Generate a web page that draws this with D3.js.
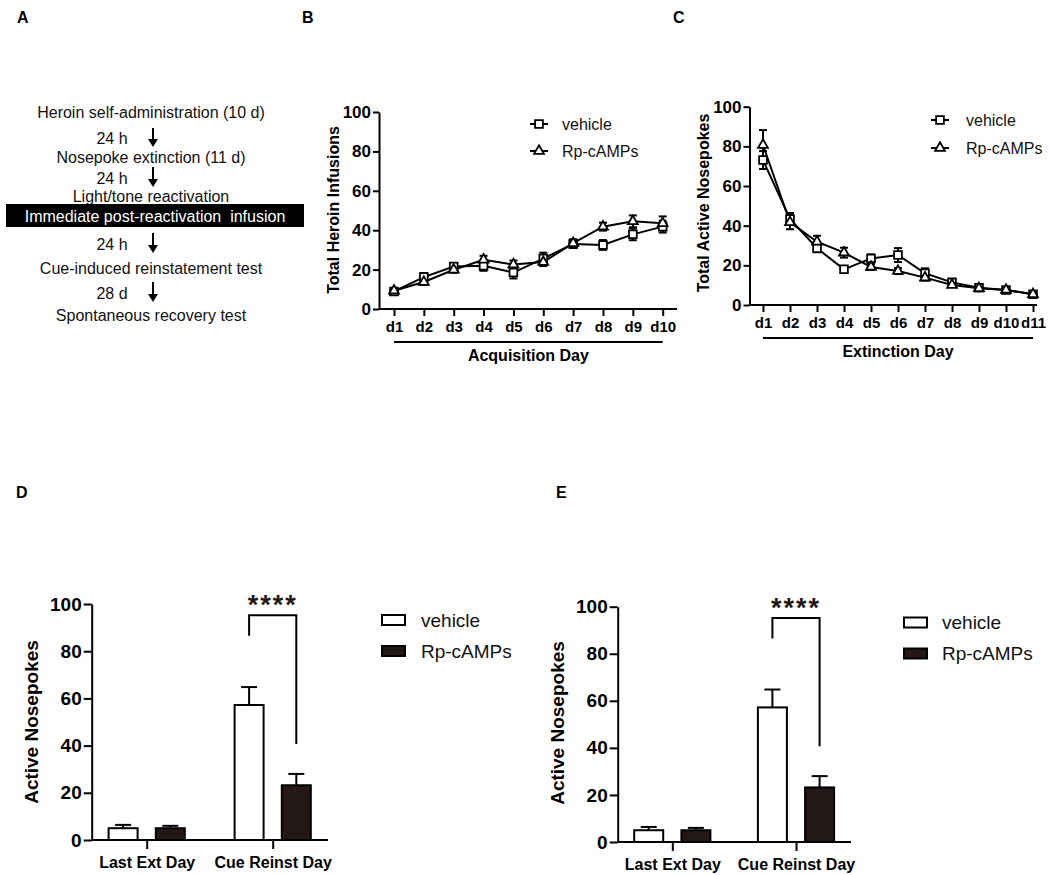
<!DOCTYPE html>
<html lang="en">
<head>
<meta charset="UTF-8">
<title>Rp-cAMPs reconsolidation figure</title>
<style>
  body { margin: 0; background: #fff; }
  svg { display: block; font-family: Arial, "Liberation Sans", sans-serif; }
  .axis path, .axis line { stroke: #000; stroke-width: 2; }
  .axis text { fill: #000; font-weight: bold; }
</style>
</head>
<body>
<svg id="fig" width="1050" height="875"></svg>
<script src="https://d3js.org/d3.v7.min.js"></script>
<script>
// ---- values ----
const yTicks = [0, 20, 40, 60, 80, 100];
const seriesNames = ["vehicle", "Rp-cAMPs"];

// B: acquisition
const acqDays = ["d1", "d2", "d3", "d4", "d5", "d6", "d7", "d8", "d9", "d10"];
const acqVehicle = [8.9, 16.2, 21.6, 21.9, 18.5, 25.6, 33.0, 32.5, 37.9, 41.8];
const acqVehicleErr = [1.5, 2.0, 1.5, 2.5, 3.0, 3.0, 2.0, 2.5, 3.0, 3.0];
const acqRp = [9.3, 13.7, 19.9, 25.0, 22.6, 23.8, 33.4, 41.8, 44.5, 43.5];
const acqRpErr = [1.0, 1.5, 1.5, 2.0, 2.0, 2.0, 2.0, 2.0, 3.0, 3.5];

// C: extinction
const extDays = ["d1", "d2", "d3", "d4", "d5", "d6", "d7", "d8", "d9", "d10", "d11"];
const extVehicle = [73.1, 43.4, 28.6, 18.0, 23.5, 25.2, 16.0, 11.4, 8.7, 7.6, 5.4];
const extVehicleErr = [4.5, 3.0, 2.0, 1.0, 2.0, 3.5, 2.5, 1.0, 1.0, 0.8, 0.8];
const extRp = [80.7, 41.7, 31.9, 26.4, 19.2, 17.1, 13.8, 10.1, 8.4, 7.6, 5.4];
const extRpErr = [7.5, 3.5, 3.0, 2.5, 1.5, 1.5, 1.5, 1.0, 1.0, 0.8, 0.8];

// D / E: test days
const testDays = ["Last Ext Day", "Cue Reinst Day"];
const testVehicle = [5.0, 57.2];
const testVehicleErr = [1.4, 7.6];
const testRp = [5.0, 23.2];
const testRpErr = [1.0, 4.8];
const bracketLevels = [95.2, 86.5, 40.7]; // top, left leg end, right leg end
const sigLabel = "****";

// A: protocol
const protocolSteps = ["Heroin self-administration (10 d)", "Nosepoke extinction (11 d)",
  "Light/tone reactivation", "Immediate post-reactivation  infusion",
  "Cue-induced reinstatement test", "Spontaneous recovery test"];
const protocolGaps = ["24 h", "24 h", "24 h", "28 d"];

const svg = d3.select("#fig");

// panel letters
[["A", 17, 23], ["B", 302, 23], ["C", 673, 23], ["D", 16, 498], ["E", 556, 498]].forEach(p => {
  svg.append("text").attr("x", p[1]).attr("y", p[2]).text(p[0])
    .attr("font-size", 16).attr("font-weight", "bold");
});

// ---- A: protocol diagram ----
(function drawProtocol() {
  const g = svg.append("g");
  const cx = 151;
  const stepY = [112, 157, 196, 216, 268, 315];
  g.append("rect").attr("x", 6).attr("y", 204).attr("width", 298).attr("height", 23).attr("fill", "#000");
  protocolSteps.forEach((s, i) => {
    g.append("text").attr("x", i === 3 ? 155 : cx).attr("y", stepY[i])
      .attr("text-anchor", "middle").attr("dominant-baseline", "central")
      .attr("font-size", 16).attr("fill", i === 3 ? "#fff" : "#111")
      .style("white-space", "pre").text(s);
  });
  const arrows = [[128, 147], [167, 187], [233, 253], [282, 302]];
  arrows.forEach((a, i) => {
    g.append("line").attr("x1", 153).attr("x2", 153).attr("y1", a[0]).attr("y2", a[1] - 6)
      .attr("stroke", "#000").attr("stroke-width", 2);
    g.append("path").attr("d", `M148,${a[1] - 8}L158,${a[1] - 8}L153,${a[1]}Z`).attr("fill", "#000");
    g.append("text").attr("x", 112).attr("y", (a[0] + a[1]) / 2 + 1)
      .attr("text-anchor", "middle").attr("dominant-baseline", "central")
      .attr("font-size", 16).attr("fill", "#111").text(protocolGaps[i]);
  });
})();

// ---- B / C: line charts ----
function lineChart(o) {
  const g = svg.append("g");
  const x = d3.scalePoint().domain(o.days).range([o.xFirst, o.xLast]);
  const y = d3.scaleLinear().domain([0, 100]).range([o.y0, o.y100]);

  const ya = g.append("g").attr("class", "axis").attr("transform", `translate(${o.axisX},0)`)
    .call(d3.axisLeft(y).tickValues(yTicks).tickSize(6).tickPadding(2).tickSizeOuter(0));
  ya.selectAll("text").attr("font-size", 17);

  const xa = g.append("g").attr("class", "axis").attr("transform", `translate(0,${o.y0})`)
    .call(d3.axisBottom(x).tickSize(7).tickPadding(5).tickSizeOuter(0));
  xa.select(".domain").remove();
  xa.selectAll("text").attr("font-size", 15);
  g.append("line").attr("x1", o.axisX).attr("x2", o.xEnd).attr("y1", o.y0).attr("y2", o.y0)
    .attr("stroke", "#000").attr("stroke-width", 2);

  // bracket line under the day labels and the axis title
  g.append("line").attr("x1", x(o.days[0])).attr("x2", x(o.days[o.days.length - 1]))
    .attr("y1", o.y0 + 33).attr("y2", o.y0 + 33).attr("stroke", "#000").attr("stroke-width", 2);
  g.append("text").attr("x", (x(o.days[0]) + x(o.days[o.days.length - 1])) / 2).attr("y", o.y0 + 52)
    .attr("text-anchor", "middle").attr("font-size", 16).attr("font-weight", "bold").text(o.xTitle);
  g.append("text").attr("transform", `translate(${o.titleX},${o.titleY}) rotate(-90)`)
    .attr("text-anchor", "middle").attr("dominant-baseline", "central")
    .attr("font-size", 16).attr("font-weight", "bold").text(o.yTitle);

  const series = [
    { vals: o.veh, err: o.vehErr, shape: "square" },
    { vals: o.rp, err: o.rpErr, shape: "triangle" }
  ];
  const line = d3.line().x((d, i) => x(o.days[i])).y(d => y(d));
  series.forEach(s => {
    g.append("path").datum(s.vals).attr("d", line)
      .attr("fill", "none").attr("stroke", "#000").attr("stroke-width", 2);
  });
  series.forEach(s => {
    s.vals.forEach((v, i) => {
      const px = x(o.days[i]);
      g.append("line").attr("x1", px).attr("x2", px).attr("y1", y(v - s.err[i])).attr("y2", y(v + s.err[i]))
        .attr("stroke", "#000").attr("stroke-width", 2);
      [v - s.err[i], v + s.err[i]].forEach(e => {
        g.append("line").attr("x1", px - 4).attr("x2", px + 4).attr("y1", y(e)).attr("y2", y(e))
          .attr("stroke", "#000").attr("stroke-width", 2);
      });
    });
  });
  series.forEach(s => {
    g.selectAll(null).data(s.vals).enter().append("path")
      .attr("transform", (d, i) => `translate(${x(o.days[i])},${y(d)})`)
      .attr("d", d3.symbol(s.shape === "square" ? d3.symbolSquare : d3.symbolTriangle, s.shape === "square" ? 60 : 42))
      .attr("fill", "#fff").attr("stroke", "#000").attr("stroke-width", 1.8);
  });

  // legend
  series.forEach((s, i) => {
    const ly = o.legY + i * o.legGap;
    g.append("line").attr("x1", o.legX).attr("x2", o.legX + o.legW).attr("y1", ly).attr("y2", ly)
      .attr("stroke", "#000").attr("stroke-width", 2);
    g.append("path").attr("transform", `translate(${o.legX + o.legW / 2},${ly})`)
      .attr("d", d3.symbol(s.shape === "square" ? d3.symbolSquare : d3.symbolTriangle, s.shape === "square" ? 60 : 42))
      .attr("fill", "#fff").attr("stroke", "#000").attr("stroke-width", 1.8);
    g.append("text").attr("x", o.legTextX).attr("y", ly).attr("dominant-baseline", "central")
      .attr("font-size", 16).attr("fill", "#111").text(seriesNames[i]);
  });
}

lineChart({
  days: acqDays, veh: acqVehicle, vehErr: acqVehicleErr, rp: acqRp, rpErr: acqRpErr,
  axisX: 379, xFirst: 394, xLast: 662.7, xEnd: 677, y0: 309, y100: 112,
  xTitle: "Acquisition Day", yTitle: "Total Heroin Infusions", titleX: 333, titleY: 210,
  legX: 530, legW: 18, legTextX: 562, legY: 124, legGap: 27
});

lineChart({
  days: extDays, veh: extVehicle, vehErr: extVehicleErr, rp: extRp, rpErr: extRpErr,
  axisX: 749.5, xFirst: 763, xLast: 1033, xEnd: 1037, y0: 305, y100: 106.7,
  xTitle: "Extinction Day", yTitle: "Total Active Nosepokes", titleX: 703, titleY: 203,
  legX: 931, legW: 18, legTextX: 966, legY: 120, legGap: 28
});

// ---- D / E: bar charts ----
function barChart(o) {
  const g = svg.append("g");
  const x = d3.scalePoint().domain(testDays).range([o.g1, o.g2]);
  const y = d3.scaleLinear().domain([0, 100]).range([o.y0, o.y100]);
  const off = 23.6, bw = 29;

  const ya = g.append("g").attr("class", "axis").attr("transform", `translate(${o.axisX},0)`)
    .call(d3.axisLeft(y).tickValues(yTicks).tickSize(8).tickPadding(2).tickSizeOuter(0));
  ya.selectAll("text").attr("font-size", 19);

  const xa = g.append("g").attr("class", "axis").attr("transform", `translate(0,${o.y0})`)
    .call(d3.axisBottom(x).tickSize(9).tickPadding(8).tickSizeOuter(0));
  xa.select(".domain").remove();
  xa.selectAll("text").attr("font-size", 16);
  g.append("line").attr("x1", o.axisX).attr("x2", o.xEnd).attr("y1", o.y0).attr("y2", o.y0)
    .attr("stroke", "#000").attr("stroke-width", 2);

  g.append("text").attr("transform", `translate(${o.titleX},${o.titleY}) rotate(-90)`)
    .attr("text-anchor", "middle").attr("dominant-baseline", "central")
    .attr("font-size", 19).attr("font-weight", "bold").text("Active Nosepokes");

  const groups = [
    { vals: testVehicle, err: testVehicleErr, dx: -off, fill: "#fff" },
    { vals: testRp, err: testRpErr, dx: off, fill: "#231815" }
  ];
  groups.forEach(s => {
    s.vals.forEach((v, i) => {
      const cx = x(testDays[i]) + s.dx;
      g.append("line").attr("x1", cx).attr("x2", cx).attr("y1", y(v)).attr("y2", y(v + s.err[i]))
        .attr("stroke", "#000").attr("stroke-width", 2);
      g.append("line").attr("x1", cx - 8).attr("x2", cx + 8).attr("y1", y(v + s.err[i])).attr("y2", y(v + s.err[i]))
        .attr("stroke", "#000").attr("stroke-width", 2);
      g.append("rect").attr("x", cx - bw / 2).attr("y", y(v)).attr("width", bw).attr("height", o.y0 - y(v))
        .attr("fill", s.fill).attr("stroke", "#000").attr("stroke-width", 2);
    });
  });

  // significance bracket on the cue test day
  const lx = x(testDays[1]) - off, rx = x(testDays[1]) + off;
  g.append("path")
    .attr("d", `M${lx},${y(bracketLevels[1])}V${y(bracketLevels[0])}H${rx}V${y(bracketLevels[2])}`)
    .attr("fill", "none").attr("stroke", "#000").attr("stroke-width", 2);
  g.append("text").attr("x", (lx + rx) / 2).attr("y", y(bracketLevels[0]) - 1)
    .attr("text-anchor", "middle").attr("font-size", 27).attr("font-weight", "bold")
    .attr("letter-spacing", 2).attr("fill", "#231815").text(sigLabel);

  // legend
  groups.forEach((s, i) => {
    const ly = o.legY + i * 31;
    g.append("rect").attr("x", o.legX).attr("y", ly).attr("width", 23).attr("height", 10)
      .attr("fill", s.fill).attr("stroke", "#000").attr("stroke-width", 2);
    g.append("text").attr("x", o.legTextX).attr("y", ly + 5).attr("dominant-baseline", "central")
      .attr("font-size", 19).attr("fill", "#111").text(seriesNames[i]);
  });
}

barChart({ axisX: 91.7, xEnd: 328, g1: 146.7, g2: 272.7, y0: 840, y100: 604,
  titleX: 31, titleY: 722, legX: 382, legTextX: 421, legY: 615 });
barChart({ axisX: 617.7, xEnd: 851, g1: 672.3, g2: 796, y0: 842, y100: 606.7,
  titleX: 557, titleY: 723, legX: 904, legTextX: 942, legY: 617.5 });
</script>
</body>
</html>
